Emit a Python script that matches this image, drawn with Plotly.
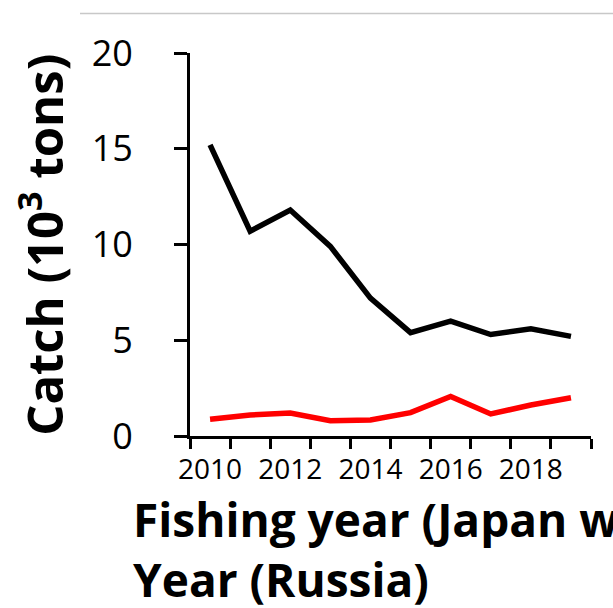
import plotly.graph_objects as go

years = [2010, 2011, 2012, 2013, 2014, 2015, 2016, 2017, 2018, 2019]
catch_japan = [15.2, 10.7, 11.8, 9.9, 7.2, 5.4, 6.0, 5.3, 5.6, 5.2]
catch_russia = [0.87, 1.1, 1.2, 0.8, 0.84, 1.22, 2.06, 1.15, 1.62, 2.0]
label_years = [2010, 2012, 2014, 2016, 2018]
boundaries = [y - 0.5 for y in years] + [years[-1] + 0.5]
y_ticks = [0, 5, 10, 15, 20]

FONT = "Open Sans"

fig = go.Figure()
fig.add_trace(go.Scatter(x=years, y=catch_japan, mode="lines",
                         line=dict(color="black", width=5.5), showlegend=False))
fig.add_trace(go.Scatter(x=years, y=catch_russia, mode="lines",
                         line=dict(color="#ff0000", width=5.5), showlegend=False))
# invisible trace to activate second x axis (year labels between ticks)
fig.add_trace(go.Scatter(x=years, y=catch_japan, xaxis="x2", mode="lines",
                         line=dict(width=0), opacity=0, showlegend=False,
                         hoverinfo="skip"))

x_range = [boundaries[0], boundaries[-1]]

fig.update_layout(
    width=613, height=608,
    margin=dict(l=190, r=22, t=53, b=172),
    paper_bgcolor="white", plot_bgcolor="white",
    font=dict(family=FONT, color="black"),
    xaxis=dict(range=x_range, tickmode="array", tickvals=boundaries,
               showticklabels=False, ticks="outside", ticklen=10,
               tickwidth=3, tickcolor="black", showline=True, linecolor="black",
               linewidth=3, showgrid=False, zeroline=False, fixedrange=True),
    xaxis2=dict(range=x_range, overlaying="x", side="bottom", anchor="y",
                tickmode="array", tickvals=label_years,
                ticktext=[str(v) for v in label_years], ticks="",
                showline=False, showgrid=False, zeroline=False,
                tickfont=dict(size=28, family=FONT, color="black"),
                ticklabelstandoff=14),
    yaxis=dict(range=[0, 20], tickmode="array", tickvals=y_ticks,
               ticks="outside", ticklen=13, tickwidth=3, tickcolor="black",
               showline=True, linecolor="black", linewidth=3, showgrid=False,
               zeroline=False, tickfont=dict(size=36, family=FONT, color="black"),
               ticklabelstandoff=34),
)

fig.add_shape(type="line", xref="paper", yref="paper",
              x0=(80 - 190) / 401, x1=(613 - 190) / 401,
              y0=(436 - 14) / 382.5, y1=(436 - 14) / 382.5,
              line=dict(color="#c8c8c8", width=1.5))

fig.add_annotation(text="Catch (10<sup>3</sup> tons)", textangle=-90,
                   xref="paper", yref="paper", x=(41 - 190) / 401,
                   y=(436 - 245) / 382.5, xanchor="center", yanchor="middle",
                   showarrow=False,
                   font=dict(size=49, family=FONT, color="black", weight="bold"))

fig.add_annotation(text="Fishing year (Japan w<br>Year (Russia)",
                   xref="paper", yref="paper", x=(131 - 190) / 401,
                   y=(436 - 486) / 382.5, xanchor="left", yanchor="top",
                   align="left", showarrow=False,
                   font=dict(size=46, family=FONT, color="black", weight="bold"))

fig.write_html("out.html", config={"displayModeBar": False},
               post_script="document.body.style.margin='0';")
